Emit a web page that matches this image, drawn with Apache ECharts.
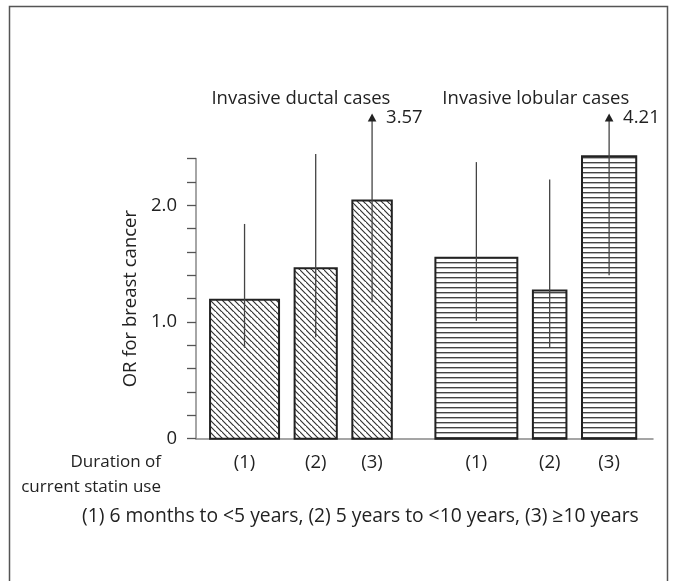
<!DOCTYPE html>
<html>
<head>
<meta charset="utf-8">
<script src="https://cdn.jsdelivr.net/npm/echarts@6/dist/echarts.min.js"></script>
<style>
  html, body { margin: 0; padding: 0; background: #fff; }
  #chart { width: 678px; height: 581px; }
</style>
</head>
<body>
<div id="chart"></div>
<script>
// ---------- data ----------
const categories = ['(1)', '(2)', '(3)', '(1)', '(2)', '(3)'];
const groupNames = ['Invasive ductal cases', 'Invasive lobular cases'];
const groupOf = [0, 0, 0, 1, 1, 1];
const orValues = [1.19, 1.46, 2.04, 1.55, 1.27, 2.42];
const ciLower = [0.78, 0.87, 1.17, 1.01, 0.78, 1.40];
const ciUpper = [1.84, 2.44, 3.57, 2.37, 2.22, 4.21];
const barWeights = [68.7, 42, 39.3, 81.6, 33.4, 54];   // relative bar widths
const yTickLabels = { 0: '0', 1: '1.0', 2: '2.0' };
const axisLabelTitle = 'Duration of\ncurrent statin use';
const footnote = '(1) 6 months to <5 years, (2) 5 years to <10 years, (3) \u226510 years';
const yAxisName = 'OR for breast cancer';

// ---------- layout (style) ----------
const FONT = '"Open Sans", "Noto Sans", sans-serif';
const FS = 18.5;
const TXT = '#222';
const gapInner = 15.5, gapGroup = 43.4, gapLead = 14, gapTrail = 16.7;
const yMax = 2.4;
const arrowRise = 45; // px above plot top where off-scale arrows end

// build x extents from widths
let cursor = gapLead;
const barData = [];
for (let i = 0; i < orValues.length; i++) {
  if (i > 0) cursor += (groupOf[i] !== groupOf[i - 1]) ? gapGroup : gapInner;
  barData.push([cursor, cursor + barWeights[i], orValues[i], groupOf[i], i]);
  cursor += barWeights[i];
}
const xTotal = cursor + gapTrail;
const groupData = groupNames.map((n, g) => {
  const items = barData.filter(d => d[3] === g);
  return [items[0][0], items[items.length - 1][1], g];
});
const errData = barData.map((d, i) => [(d[0] + d[1]) / 2, ciLower[i], ciUpper[i], i]);

// ---------- patterns ----------
function diagPattern() {
  const s = 6, c = document.createElement('canvas');
  c.width = s; c.height = s;
  const ctx = c.getContext('2d');
  ctx.strokeStyle = '#333'; ctx.lineWidth = 1.2;
  ctx.beginPath();
  ctx.moveTo(-1, -1); ctx.lineTo(s + 1, s + 1);
  ctx.moveTo(-s - 1, -1); ctx.lineTo(1, s + 1);
  ctx.moveTo(s - 1, -s - 1); ctx.lineTo(2 * s + 1, s + 1);
  ctx.stroke();
  return { image: c, repeat: 'repeat' };
}
function horizPattern() {
  const c = document.createElement('canvas');
  c.width = 10; c.height = 5;
  const ctx = c.getContext('2d');
  ctx.fillStyle = '#fff'; ctx.fillRect(0, 0, 10, 5);
  ctx.fillStyle = '#444'; ctx.fillRect(0, 2, 10, 1.4);
  return { image: c, repeat: 'repeat' };
}
const patterns = [diagPattern(), horizPattern()];

const chart = echarts.init(document.getElementById('chart'), null, { renderer: 'canvas' });

const option = {
  backgroundColor: '#fff',
  animation: false,
  textStyle: { fontFamily: FONT },
  grid: { left: 196, right: 25, top: 158.6, bottom: 142.3 },
  xAxis: {
    type: 'value', min: 0, max: xTotal,
    axisLine: { show: true, lineStyle: { color: '#888', width: 1.5 }, onZero: false },
    axisTick: { show: false }, axisLabel: { show: false }, splitLine: { show: false }
  },
  yAxis: {
    type: 'value', min: 0, max: yMax, interval: 0.2,
    name: yAxisName, nameLocation: 'middle', nameGap: 56,
    nameTextStyle: { fontSize: FS, color: TXT, fontFamily: FONT },
    axisLine: { show: true, lineStyle: { color: '#888', width: 1.5 } },
    axisTick: { show: true, length: 9, lineStyle: { color: '#555', width: 1.3 } },
    axisLabel: {
      fontSize: FS, color: TXT, margin: 19, fontFamily: FONT,
      formatter: v => {
        const k = Math.round(v * 10) / 10;
        return yTickLabels[k] !== undefined && Math.abs(v - k) < 1e-6 ? yTickLabels[k] : '';
      }
    },
    splitLine: { show: false }
  },
  series: [
    {
      type: 'custom', clip: false, z: 2,
      data: barData,
      renderItem: (params, api) => {
        const x0 = api.value(0), x1 = api.value(1), v = api.value(2), g = api.value(3), idx = api.value(4);
        const pTop = api.coord([x0, v]);
        const pBot = api.coord([x1, 0]);
        return {
          type: 'group',
          children: [
            {
              type: 'rect',
              shape: { x: pTop[0], y: pTop[1], width: pBot[0] - pTop[0], height: pBot[1] - pTop[1] },
              style: { fill: patterns[g], stroke: '#222', lineWidth: 2 }
            },
            {
              type: 'text',
              x: (pTop[0] + pBot[0]) / 2, y: pBot[1] + 24,
              style: { text: categories[idx], textAlign: 'center', textVerticalAlign: 'middle', fontSize: FS, fontFamily: FONT, fill: TXT }
            }
          ]
        };
      }
    },
    {
      type: 'custom', clip: false, z: 3,
      data: errData,
      renderItem: (params, api) => {
        const xc = api.value(0), lo = api.value(1), hi = api.value(2);
        const pLo = api.coord([xc, lo]);
        const pHi = api.coord([xc, hi]);
        const tipY = api.coord([xc, yMax])[1] - arrowRise;
        const children = [];
        if (pHi[1] < tipY) {
          children.push({ type: 'line', shape: { x1: pLo[0], y1: pLo[1], x2: pLo[0], y2: tipY + 7 }, style: { stroke: '#444', lineWidth: 1.3 } });
          children.push({ type: 'polygon', shape: { points: [[pLo[0], tipY], [pLo[0] - 4.3, tipY + 8], [pLo[0] + 4.3, tipY + 8]] }, style: { fill: '#222' } });
          children.push({ type: 'text', x: pLo[0] + 14, y: tipY + 4, style: { text: hi.toFixed(2), textAlign: 'left', textVerticalAlign: 'middle', fontSize: FS, fontFamily: FONT, fill: TXT } });
        } else {
          children.push({ type: 'line', shape: { x1: pLo[0], y1: pLo[1], x2: pHi[0], y2: pHi[1] }, style: { stroke: '#444', lineWidth: 1.3 } });
        }
        return { type: 'group', children };
      }
    },
    {
      type: 'custom', clip: false, z: 3,
      data: groupData,
      renderItem: (params, api) => {
        const a = api.coord([api.value(0), yMax]);
        const b = api.coord([api.value(1), yMax]);
        return {
          type: 'text', x: (a[0] + b[0]) / 2, y: a[1] - 60,
          style: { text: groupNames[api.value(2)], textAlign: 'center', textVerticalAlign: 'middle', fontSize: FS, fontFamily: FONT, fill: TXT }
        };
      }
    }
  ],
  graphic: [
    { type: 'rect', shape: { x: 9.5, y: 6.5, width: 658, height: 620 }, style: { fill: 'none', stroke: '#555', lineWidth: 1.5 }, z: 10 },
    { type: 'text', right: 678 - 161, top: 450, style: { text: axisLabelTitle, textAlign: 'right', fontSize: 17, lineHeight: 25, fontFamily: FONT, fill: TXT } },
    { type: 'text', left: 82, top: 507, style: { text: footnote, textAlign: 'left', fontSize: 19.3, fontFamily: FONT, fill: TXT } }
  ]
};
chart.setOption(option);
</script>
</body>
</html>
